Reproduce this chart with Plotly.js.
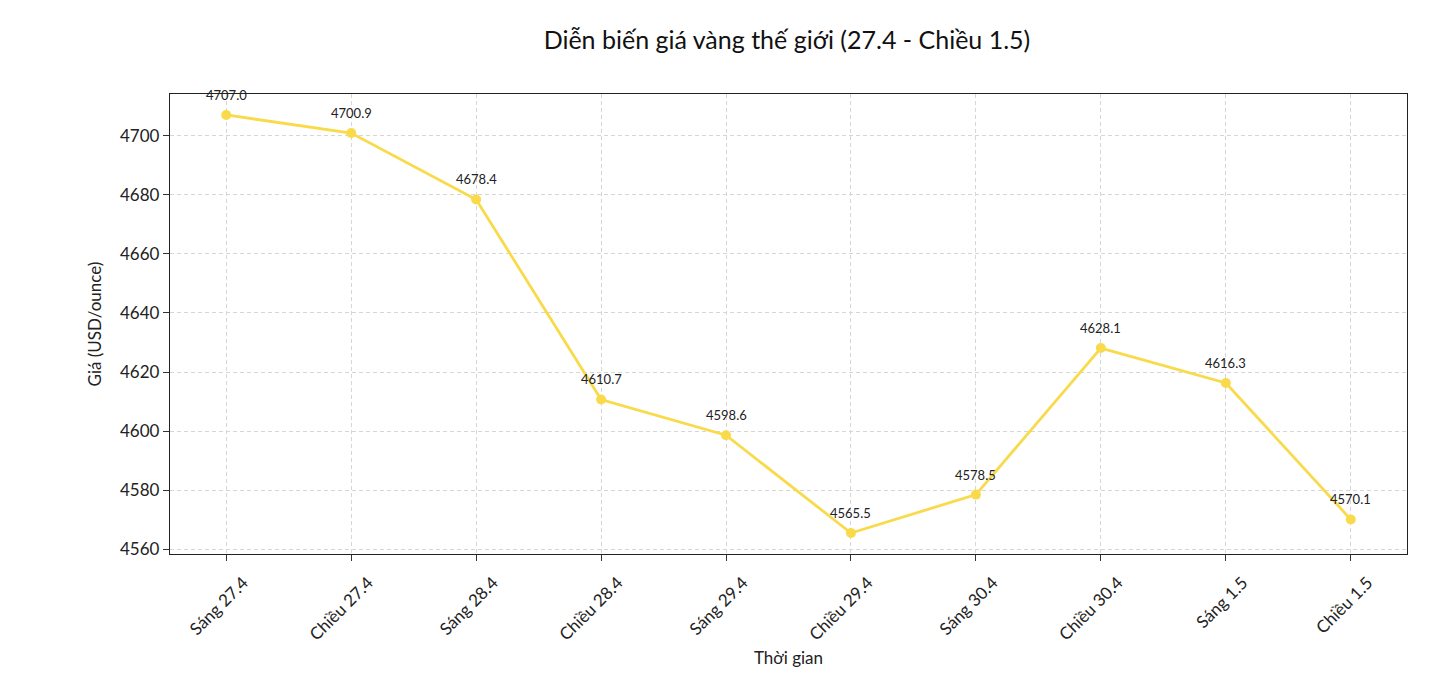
<!DOCTYPE html>
<html>
<head>
<meta charset="utf-8">
<script src="https://cdn.plot.ly/plotly-3.0.1.min.js"></script>
<style>
  html, body { margin: 0; padding: 0; background: #fff; }
  #chart { width: 1456px; height: 694px; }
</style>
</head>
<body>
<div id="chart"></div>
<script>
// data
const timeLabels = ["Sáng 27.4", "Chiều 27.4", "Sáng 28.4", "Chiều 28.4", "Sáng 29.4",
                    "Chiều 29.4", "Sáng 30.4", "Chiều 30.4", "Sáng 1.5", "Chiều 1.5"];
const goldPrice = [4707.0, 4700.9, 4678.4, 4610.7, 4598.6, 4565.5, 4578.5, 4628.1, 4616.3, 4570.1];
const yTicks = [4560, 4580, 4600, 4620, 4640, 4660, 4680, 4700];

const fontFamily = "Lato, 'Open Sans', sans-serif";
const lineColor = "#F9DA4B";

const xIdx = timeLabels.map((_, i) => i);

const trace = {
  x: xIdx,
  y: goldPrice,
  type: "scatter",
  mode: "lines+markers",
  line: { color: lineColor, width: 2.8 },
  marker: { color: lineColor, size: 10 },
  hoverinfo: "x+y"
};

// value labels above every point
const labels = goldPrice.map((v, i) => ({
  x: i,
  y: v,
  xref: "x",
  yref: "y",
  text: v.toFixed(1),
  showarrow: false,
  yshift: 20,
  font: { family: fontFamily, size: 13, color: "#222" }
}));

const layout = {
  width: 1456,
  height: 694,
  margin: { l: 170, r: 49, t: 94, b: 140 },
  paper_bgcolor: "#fff",
  plot_bgcolor: "#fff",
  showlegend: false,
  font: { family: fontFamily, color: "#222" },
  title: {
    text: "Diễn biến giá vàng thế giới (27.4 - Chiều 1.5)",
    font: { family: fontFamily, size: 25, color: "#111" },
    x: 0.5405,
    xanchor: "center",
    y: 0.942,
    yanchor: "middle"
  },
  xaxis: {
    range: [-0.45, 9.45],
    tickmode: "array",
    tickvals: xIdx,
    ticktext: timeLabels,
    tickangle: -45,
    ticklabelshift: 17,
    ticklabelstandoff: 5,
    tickfont: { family: fontFamily, size: 17, color: "#222" },
    ticks: "outside",
    ticklen: 6,
    tickcolor: "#333",
    showline: true,
    linecolor: "#222",
    linewidth: 1.2,
    mirror: true,
    showgrid: true,
    gridcolor: "#d6d6d6",
    griddash: "4px,3px",
    gridwidth: 1,
    zeroline: false,
    title: { text: "Thời gian", font: { family: fontFamily, size: 17, color: "#222" }, standoff: 8 }
  },
  yaxis: {
    range: [4558.4, 4714.1],
    tickmode: "array",
    tickvals: yTicks,
    tickfont: { family: fontFamily, size: 17, color: "#222" },
    ticks: "outside",
    ticklen: 6,
    tickcolor: "#333",
    showline: true,
    linecolor: "#222",
    linewidth: 1.2,
    mirror: true,
    showgrid: true,
    gridcolor: "#d6d6d6",
    griddash: "4px,3px",
    gridwidth: 1,
    zeroline: false,
    title: { text: "Giá (USD/ounce)", font: { family: fontFamily, size: 17, color: "#222" }, standoff: 14 }
  },
  annotations: labels
};

Plotly.newPlot("chart", [trace], layout, { displayModeBar: false, staticPlot: true });
</script>
</body>
</html>
